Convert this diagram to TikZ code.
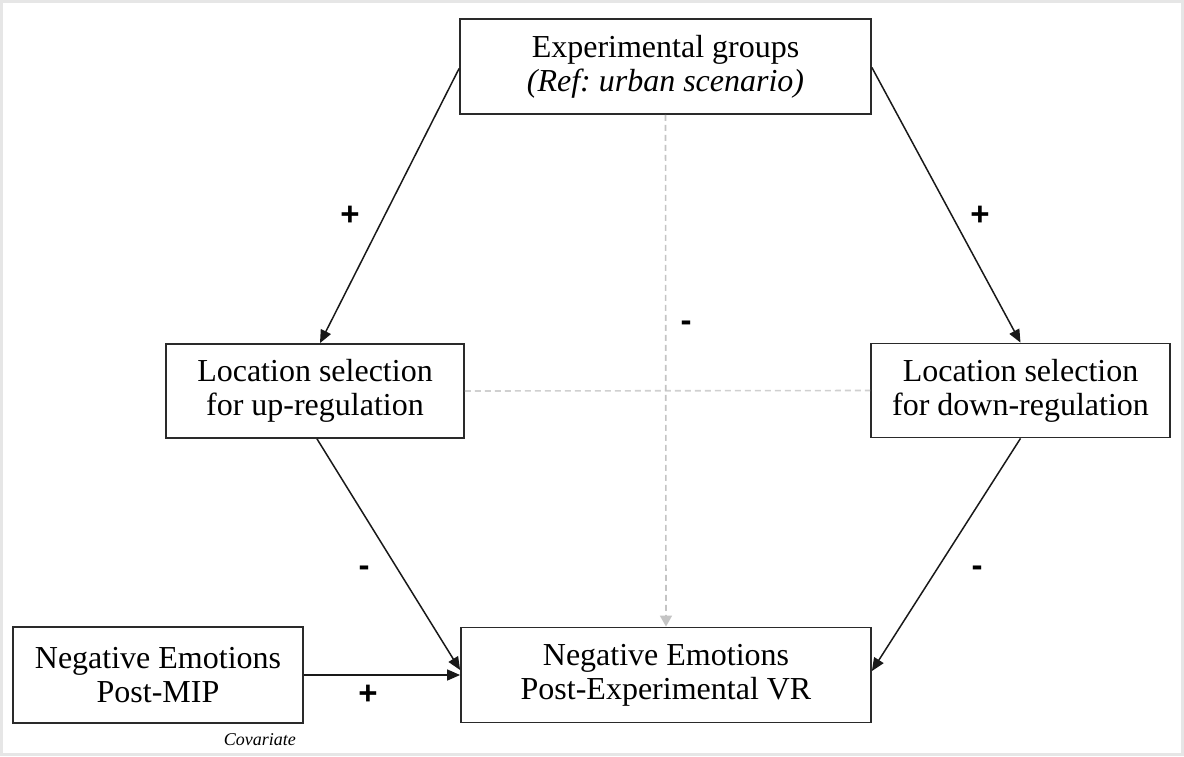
\documentclass[tikz,border=0pt]{standalone}
\usepackage{fontspec}
\setmainfont{Liberation Serif}
\newfontfamily\signfont{Liberation Sans}
\usetikzlibrary{arrows.meta}
\definecolor{framegray}{HTML}{E6E6E6}
\definecolor{guidegray}{HTML}{C4C4C4}
\definecolor{boxline}{HTML}{2A2A2A}
\frenchspacing
\begin{document}
\begin{tikzpicture}[x=1pt,y=-1pt,
  box/.style={draw=boxline, line width=1.8pt, inner sep=0pt, align=center,
              font=\fontsize{32}{34}\selectfont},
  link/.style={draw=black!90, line width=1.5pt, -{Triangle[length=13pt,width=11pt]}},
  guide/.style={draw=guidegray, line width=1.6pt, dash pattern=on 6pt off 4pt},
  sign/.style={font=\signfont\bfseries\fontsize{33}{35}\selectfont, inner sep=0pt, anchor=base}
]
\useasboundingbox (0,0) rectangle (1184,756);
% outer frame
\draw[draw=framegray, line width=3pt] (1.5,1.5) rectangle (1182.5,754.5);

% boxes
\node[box, minimum width=411, minimum height=95] (grp) at (665.5,66.5)
  {Experimental groups\\\textit{(Ref: urban scenario)}};
\node[box, minimum width=298, minimum height=94] (up) at (315,391)
  {Location selection\\for up-regulation};
\node[box, minimum width=299, minimum height=94] (down) at (1020.5,390.5)
  {Location selection\\for down-regulation};
\node[box, minimum width=290, minimum height=96] (cov) at (158,675)
  {Negative Emotions\\Post-MIP};
\node[box, minimum width=410, minimum height=95] (out) at (666,675)
  {Negative Emotions\\Post-Experimental VR};
\node[font=\itshape\fontsize{18}{20}\selectfont, anchor=base east, inner sep=0pt]
  (covlab) at (296,745) {Covariate};

% guide lines
\draw[guide, draw=guidegray!80] (up.east) -- (down.west);
\draw[guide, -{Triangle[length=11pt,width=12pt]}, arrows={[fill=guidegray]}] (grp.south) -- (out.north);

% paths
\draw[link] ([yshift=-2pt]grp.west) -- ([xshift=5pt]up.north);
\draw[link] ([yshift=-1pt]grp.east) -- (down.north);
\draw[link] ([xshift=2pt]up.south) -- ([yshift=5pt]out.west);
\draw[link] (down.south) -- ([yshift=4pt]out.east);
\draw[link] (cov.east) -- (out.west);

% signs
\node[sign] (s1) at (350,225) {+};
\node[sign] (s2) at (980,225) {+};
\node[sign] (s3) at (686,331) {-};
\node[sign] (s4) at (364,576) {-};
\node[sign] (s5) at (977,576) {-};
\node[sign] (s6) at (368,704) {+};
\end{tikzpicture}
\end{document}
